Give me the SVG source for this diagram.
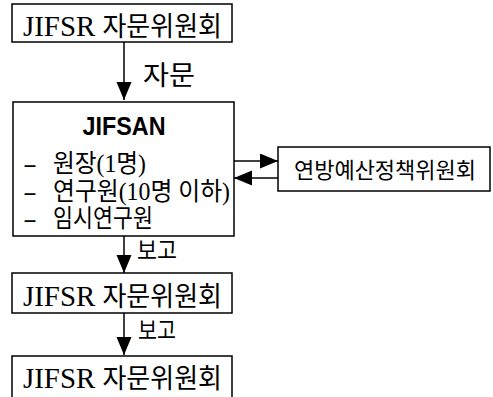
<svg xmlns="http://www.w3.org/2000/svg" width="493" height="397" viewBox="0 0 493 397">
<style>
.box{fill:#fff;stroke:#000;stroke-width:1.5}
.t{font-family:"Liberation Serif","Noto Sans CJK KR",serif;fill:#000}
.k{font-family:"Noto Sans CJK KR","Liberation Serif",sans-serif;fill:#000}
.lat{font-family:"Liberation Serif",serif;font-size:30px}
.han{font-family:"Noto Sans CJK KR",sans-serif;font-size:27px}
.line{stroke:#000;stroke-width:1.5;fill:none}
</style>
<defs>
<marker id="ah" markerUnits="userSpaceOnUse" markerWidth="20" markerHeight="16" refX="18" refY="7.5" orient="auto">
<path d="M0,0 L18,7.5 L0,15 z" fill="#000"/>
</marker>
</defs>
<g id="connectors">
<line class="line" x1="124" y1="42" x2="124" y2="100" marker-end="url(#ah)"/>
<line class="line" x1="234" y1="161" x2="278" y2="161" marker-end="url(#ah)"/>
<line class="line" x1="278" y1="178" x2="234" y2="178" marker-end="url(#ah)"/>
<line class="line" x1="124" y1="236" x2="124" y2="273" marker-end="url(#ah)"/>
<line class="line" x1="124" y1="313" x2="124" y2="355" marker-end="url(#ah)"/>
<text class="k" x="143" y="85" font-size="27" textLength="52" lengthAdjust="spacingAndGlyphs">자문</text>
<text class="k" x="137" y="259" font-size="24" textLength="40" lengthAdjust="spacingAndGlyphs">보고</text>
<text class="k" x="138" y="339" font-size="24" textLength="38" lengthAdjust="spacingAndGlyphs">보고</text>
</g>
<g id="node-jifsr-1">
<rect class="box" x="12" y="4" width="220" height="38"/>
<text x="23" y="36" textLength="199" lengthAdjust="spacingAndGlyphs"><tspan class="lat">JIFSR </tspan><tspan class="han">자문위원회</tspan></text>
</g>
<g id="node-jifsan">
<rect class="box" x="13" y="102" width="221" height="134"/>
<text x="124" y="135" text-anchor="middle" font-family="Liberation Sans, Arial, sans-serif" font-weight="bold" font-size="26" textLength="83" lengthAdjust="spacingAndGlyphs">JIFSAN</text>
<text class="t" x="23" y="172" font-size="24" textLength="14" lengthAdjust="spacingAndGlyphs">-</text>
<text class="t" x="53" y="172" font-size="25" textLength="93" lengthAdjust="spacingAndGlyphs">원장(1명)</text>
<text class="t" x="23" y="200" font-size="24" textLength="14" lengthAdjust="spacingAndGlyphs">-</text>
<text class="t" x="53" y="200" font-size="25" textLength="177" lengthAdjust="spacingAndGlyphs">연구원(10명 이하)</text>
<text class="t" x="23" y="227" font-size="24" textLength="14" lengthAdjust="spacingAndGlyphs">-</text>
<text class="t" x="53" y="227" font-size="25" textLength="100" lengthAdjust="spacingAndGlyphs">임시연구원</text>
</g>
<g id="node-budget">
<rect class="box" x="278" y="147" width="212" height="44"/>
<text class="k" x="385" y="178" font-size="22" text-anchor="middle">연방예산정책위원회</text>
</g>
<g id="node-jifsr-2">
<rect class="box" x="12" y="273" width="220" height="40"/>
<text x="23" y="306" textLength="199" lengthAdjust="spacingAndGlyphs"><tspan class="lat">JIFSR </tspan><tspan class="han">자문위원회</tspan></text>
</g>
<g id="node-jifsr-3">
<path class="line" d="M12,400 L12,356 L232,356 L232,400"/>
<text x="23" y="388" textLength="199" lengthAdjust="spacingAndGlyphs"><tspan class="lat">JIFSR </tspan><tspan class="han">자문위원회</tspan></text>
</g>
</svg>
